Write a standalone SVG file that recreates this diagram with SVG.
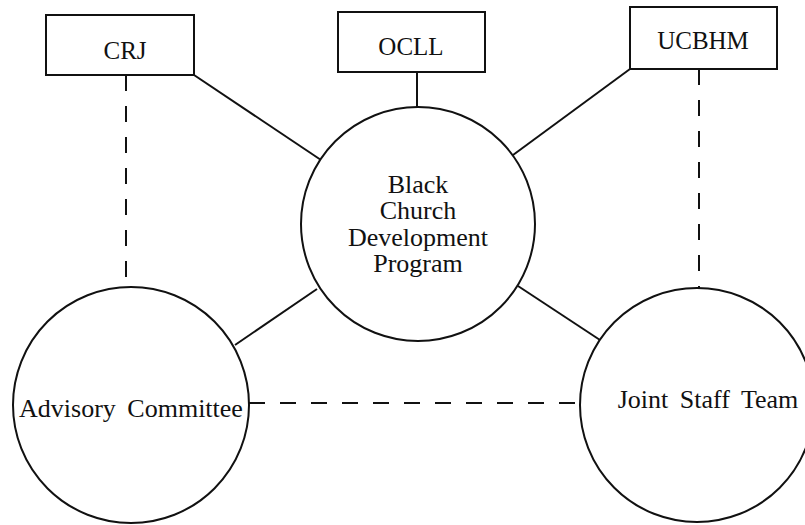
<svg xmlns="http://www.w3.org/2000/svg" width="805" height="525" viewBox="0 0 805 525">
<style>
.box{fill:#fff;stroke:#111;stroke-width:2}
.circ{fill:#fff;stroke:#111;stroke-width:2}
.solid{stroke:#111;stroke-width:2;fill:none}
.dash{stroke:#111;stroke-width:2;fill:none;stroke-dasharray:16 15}
text{font-family:"Liberation Serif","DejaVu Serif",serif;fill:#111;text-anchor:middle}
.lbl{font-size:25px}
.big{font-size:26px;word-spacing:5px}
</style>
<rect width="805" height="525" fill="#fff"/>
<g id="connectors">
<line class="solid" x1="194" y1="75" x2="321" y2="160"/>
<line class="solid" x1="417" y1="72" x2="417" y2="107"/>
<line class="solid" x1="630" y1="69" x2="513" y2="155"/>
<line class="solid" x1="317" y1="289" x2="235" y2="345"/>
<line class="solid" x1="518" y1="286" x2="600" y2="340"/>
<line class="dash" x1="126" y1="75" x2="126" y2="287"/>
<line class="dash" x1="699" y1="69" x2="699" y2="288"/>
<line class="dash" x1="249" y1="403" x2="580" y2="403"/>
</g>
<g id="crj">
<rect class="box" x="46" y="15" width="148" height="60"/>
<text class="lbl" x="125" y="59">CRJ</text>
</g>
<g id="ocll">
<rect class="box" x="338" y="12" width="147" height="60"/>
<text class="lbl" x="411" y="55">OCLL</text>
</g>
<g id="ucbhm">
<rect class="box" x="630" y="7" width="147" height="62"/>
<text class="lbl" x="703" y="49">UCBHM</text>
</g>
<g id="bcdp">
<circle class="circ" cx="418" cy="224" r="117"/>
<text class="big" x="418" y="193">Black</text>
<text class="big" x="418" y="219">Church</text>
<text class="big" x="418" y="246">Development</text>
<text class="big" x="418" y="272">Program</text>
</g>
<g id="advisory">
<circle class="circ" cx="131" cy="405" r="118"/>
<text class="big" x="131" y="417">Advisory Committee</text>
</g>
<g id="joint">
<circle class="circ" cx="697" cy="405" r="117"/>
<text class="big" x="708" y="408">Joint Staff Team</text>
</g>
</svg>
